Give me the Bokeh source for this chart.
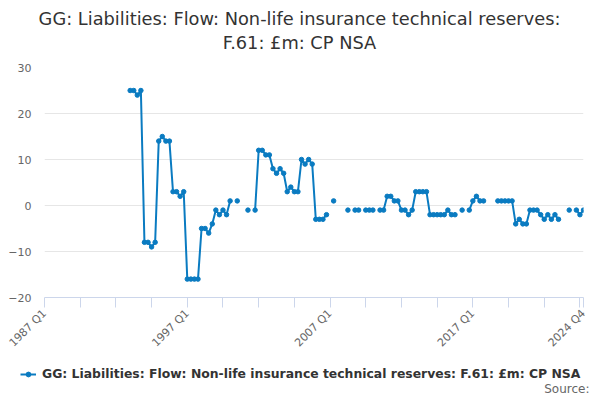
import math
from bokeh.plotting import figure
from bokeh.layouts import column
from bokeh.models import (ColumnDataSource, Range1d, FixedTicker, Legend, LegendItem, Label)
from bokeh.embed import file_html
from bokeh.resources import INLINE

# ---- data ----
years = list(range(1987, 2025))
quarters = [f"{y} Q{q}" for y in years for q in range(1, 5)]

values = ([None] * 24 +
          [25, 25, 24, 25,
           -8, -8, -9, -8,
           14, 15, 14, 14,
           3, 3, 2, 3,
           -16, -16, -16, -16,
           -5, -5, -6, -4,
           -1, -2, -1, -2,
           1, None, 1, None, None, -1, None, -1,
           12, 12, 11, 11,
           8, 7, 8, 7,
           3, 4, 3, 3,
           10, 9, 10, 9,
           -3, -3, -3, -2,
           None, 1, None, None, None, -1, None, -1, -1, None, -1, -1, -1, None, -1, -1,
           2, 2, 1, 1,
           -1, -1, -2, -1,
           3, 3, 3, 3,
           -2, -2, -2, -2, -2, -1, -2, -2,
           None, -1, None, -1,
           1, 2, 1, 1,
           None, None, None, 1, 1, 1, 1, 1,
           -4, -3, -4, -4,
           -1, -1, -1, -2, -3, -2, -3, -2, -3,
           None, None, -1, None, -1, -2, -1])

labelled_quarters = ["1987 Q1", "1997 Q1", "2007 Q1", "2017 Q1", "2024 Q4"]
y_ticks = [-20, -10, 0, 10, 20, 30]

series_name = "GG: Liabilities: Flow: Non-life insurance technical reserves: F.61: £m: CP NSA"
title_lines = ["GG: Liabilities: Flow: Non-life insurance technical reserves:",
               "F.61: £m: CP NSA"]
source_text = "Source:"

# ---- build ----
idx = list(range(len(quarters)))
yv = [float("nan") if v is None else v for v in values]
src = ColumnDataSource(dict(x=idx, y=yv))

FONT = "DejaVu Sans"
BLUE = "#0a7bc1"
W = 592
HT, H1, H2 = 56, 302, 40


def strip(height):
    f = figure(width=W, height=height, output_backend="svg", toolbar_location=None,
               x_range=Range1d(0, 1), y_range=Range1d(0, 1),
               x_axis_location=None, y_axis_location=None,
               min_border_left=0, min_border_right=0, min_border_top=0, min_border_bottom=0)
    f.frame_align = False
    f.outline_line_color = None
    f.xgrid.visible = False
    f.ygrid.visible = False
    return f


# ---- title strip ----
t = strip(HT)
for line, ytop in zip(title_lines, [18, 42]):
    t.add_layout(Label(x=299, y=HT - ytop, x_units="screen", y_units="screen",
                       text=line, text_align="center", text_baseline="middle",
                       text_font=FONT, text_font_size="17.8px", text_color="#333333"))

# ---- main chart ----
p = figure(width=W, height=H1, output_backend="svg", toolbar_location=None,
           x_range=Range1d(0, len(quarters) - 1), y_range=Range1d(-20, 30),
           min_border_left=44, min_border_right=9, min_border_top=11,
           min_border_bottom=H1 - 11 - 230)
p.frame_align = False
p.outline_line_color = None

ln = p.line("x", "y", source=src, line_color=BLUE, line_width=2)
sc = p.scatter("x", "y", source=src, size=4.5, fill_color=BLUE, line_color=BLUE)

ticks = list(range(0, len(quarters) - 1, 10)) + [len(quarters) - 1]
xa = p.xaxis[0]
xa.ticker = FixedTicker(ticks=ticks)
overrides = {tk: "" for tk in ticks}
for lab in labelled_quarters:
    overrides[quarters.index(lab)] = lab
xa.major_label_overrides = overrides
xa.major_label_orientation = math.pi / 4
xa.axis_line_color = "#ccd6eb"
xa.major_tick_line_color = "#ccd6eb"
xa.major_tick_out = 10
xa.major_tick_in = 0
xa.minor_tick_line_color = None
xa.major_label_text_font = FONT
xa.major_label_text_font_size = "11px"
xa.major_label_text_color = "#666666"
xa.major_label_standoff = 4
p.xgrid.grid_line_color = None

ya = p.yaxis[0]
ya.ticker = FixedTicker(ticks=y_ticks)
ya.axis_line_color = None
ya.major_tick_line_color = None
ya.minor_tick_line_color = None
ya.major_tick_in = 0
ya.major_tick_out = 0
ya.major_label_standoff = 13
ya.major_label_text_font = FONT
ya.major_label_text_font_size = "11px"
ya.major_label_text_color = "#666666"
p.ygrid.grid_line_color = "#e6e6e6"
p.ygrid.ticker = FixedTicker(ticks=y_ticks)

# ---- legend / source strip ----
q = strip(H2)
key_src = ColumnDataSource(dict(x=[float("nan")], y=[float("nan")]))
lk = q.line("x", "y", source=key_src, line_color=BLUE, line_width=2)
sk = q.scatter("x", "y", source=key_src, size=4.5, fill_color=BLUE, line_color=BLUE)

legend = Legend(items=[LegendItem(label=series_name, renderers=[lk, sk], index=0)],
                location=(20, 17), orientation="horizontal",
                border_line_color=None, background_fill_alpha=0,
                label_text_font=FONT, label_text_font_size="12.4px",
                label_text_font_style="bold", label_text_color="#333333",
                glyph_width=16, glyph_height=12, label_height=12, label_standoff=6,
                padding=0, margin=0)
q.add_layout(legend, "center")

q.add_layout(Label(x=589, y=10, x_units="screen", y_units="screen",
                   text=source_text, text_align="right", text_baseline="middle",
                   text_font=FONT, text_font_size="12px", text_color="#666666"))

layout = column(t, p, q, spacing=0)
open("out.html", "w").write(file_html(layout, INLINE))
